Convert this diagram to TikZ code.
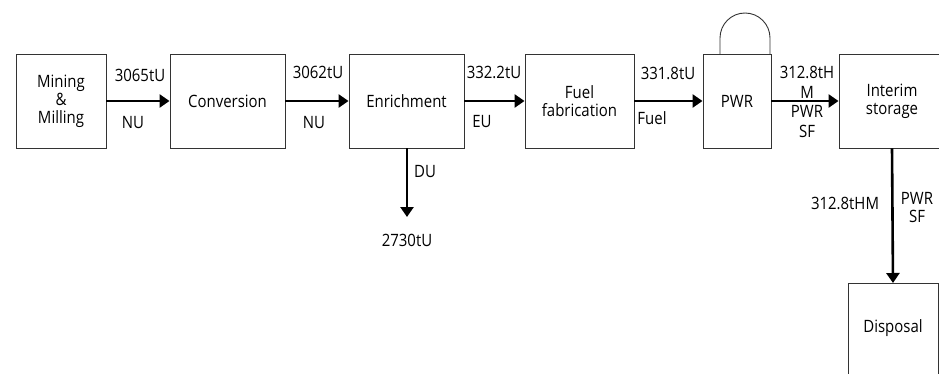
\documentclass[tikz,border=0pt]{standalone}
\usepackage{fontspec}
\setmainfont{Open Sans}[FakeStretch=0.88]
\usetikzlibrary{arrows.meta}
\tikzset{
  box/.style={draw=black!80, line width=0.9pt, align=center, inner sep=0pt, font=\fontsize{17}{18}\selectfont},
  flow/.style={line width=2.6pt, -{Triangle[length=10pt,width=13pt]}},
  lbl/.style={inner sep=0pt, align=center, font=\fontsize{17}{18}\selectfont},
}
\begin{document}
\begin{tikzpicture}[x=1pt,y=-1pt]
\useasboundingbox (0,0) rectangle (939,374);
\clip (0,0) rectangle (939,374);
\node[box, minimum width=90pt, minimum height=94pt] (mm) at (61,101) {Mining\\\&\\Milling};
\node[box, minimum width=115pt, minimum height=94pt] (conv) at (227.5,101) {Conversion};
\node[box, minimum width=115pt, minimum height=94pt] (enr) at (406.5,101) {Enrichment};
\node[box, minimum width=109pt, minimum height=94pt] (fab) at (579.5,101) {Fuel\\fabrication};
\node[box, minimum width=68pt, minimum height=94pt] (pwr) at (737,101) {PWR};
\node[box, minimum width=106pt, minimum height=94pt] (ist) at (892,101) {Interim\\storage};
\node[box, minimum width=90pt, minimum height=94pt, anchor=north] (disp) at (893,283) {};
\node[lbl] (disptxt) at (893,328) {Disposal};
\coordinate (du) at (407,217);
\draw[line width=0.9pt, draw=black!80] (720,54) -- (720,38) arc[start angle=180, end angle=360, radius=25] -- (770,54);
\draw[flow] (mm.east) -- (conv.west);
\draw[flow] (conv.east) -- (enr.west);
\draw[flow] (enr.east) -- (fab.west);
\draw[flow] (fab.east) -- (pwr.west);
\draw[flow] (pwr.east) -- (ist.west);
\draw[flow] (enr.south -| du) -- (du);
\draw[flow] (ist.south) -- (disp.north);
\node[lbl] (l1) at (140,75) {3065tU};
\node[lbl] (l2) at (133,123) {NU};
\node[lbl] (l3) at (318,72) {3062tU};
\node[lbl] (l4) at (314,123) {NU};
\node[lbl] (l5) at (494,72) {332.2tU};
\node[lbl] (l6) at (482,122) {EU};
\node[lbl] (l7) at (668,73) {331.8tU};
\node[lbl] (l8) at (652,118) {Fuel};
\node[lbl, font=\fontsize{17}{19.5}\selectfont] (l9) at (807,102) {312.8tH\\M\\PWR\\SF};
\node[lbl] (l10) at (425,172) {DU};
\node[lbl] (l11) at (407,240) {2730tU};
\node[lbl] (l12) at (845,203) {312.8tHM};
\node[lbl] (l13) at (917,208) {PWR\\SF};
\end{tikzpicture}
\end{document}
